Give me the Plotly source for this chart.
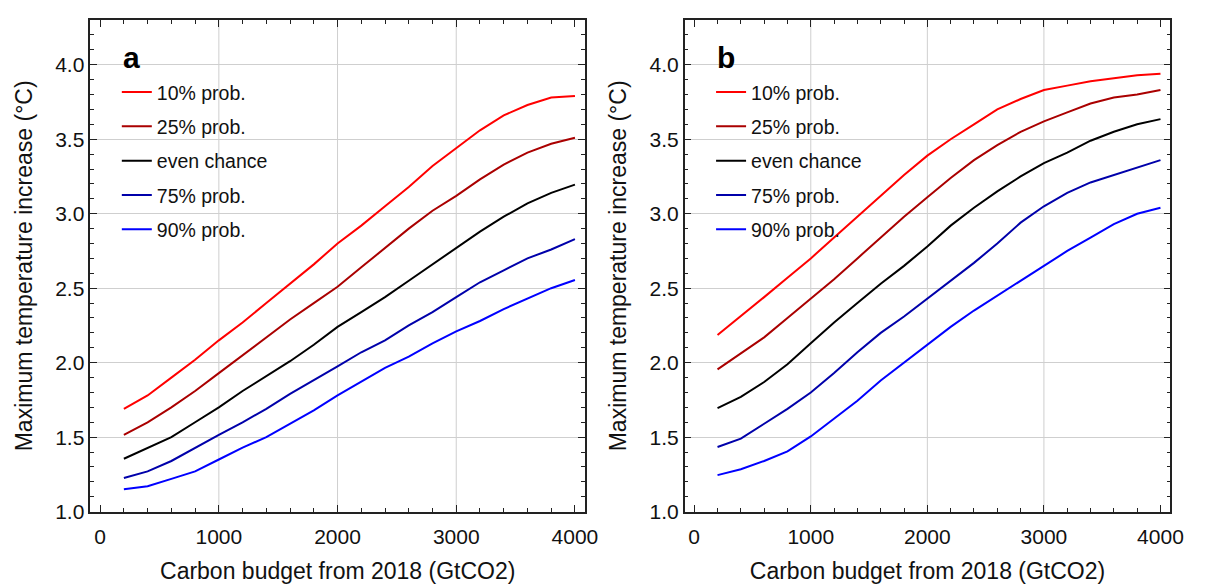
import plotly.graph_objects as go

# ---------------- data ----------------
budget = [200, 400, 600, 800, 1000, 1200, 1400, 1600, 1800, 2000,
          2200, 2400, 2600, 2800, 3000, 3200, 3400, 3600, 3800, 4000]

series_names = ["10% prob.", "25% prob.", "even chance", "75% prob.", "90% prob."]
series_colors = ["#ff0000", "#aa0000", "#000000", "#0000aa", "#0000ff"]

a_p10 = [1.69, 1.78, 1.90, 2.02, 2.15, 2.27, 2.40, 2.53, 2.66, 2.80,
         2.92, 3.05, 3.18, 3.32, 3.44, 3.56, 3.66, 3.73, 3.78, 3.79]
a_p25 = [1.515, 1.60, 1.70, 1.81, 1.93, 2.05, 2.17, 2.29, 2.40, 2.51,
         2.64, 2.77, 2.90, 3.02, 3.12, 3.23, 3.33, 3.41, 3.47, 3.51]
a_p50 = [1.355, 1.43, 1.50, 1.60, 1.70, 1.81, 1.91, 2.01, 2.12, 2.24,
         2.34, 2.44, 2.55, 2.66, 2.77, 2.88, 2.98, 3.07, 3.14, 3.195]
a_p75 = [1.226, 1.27, 1.34, 1.43, 1.515, 1.60, 1.69, 1.79, 1.88, 1.975,
         2.07, 2.15, 2.25, 2.34, 2.44, 2.54, 2.62, 2.70, 2.76, 2.83]
a_p90 = [1.15, 1.17, 1.22, 1.27, 1.35, 1.43, 1.50, 1.59, 1.68, 1.78,
         1.87, 1.965, 2.04, 2.13, 2.21, 2.28, 2.36, 2.43, 2.50, 2.555]

b_p10 = [2.186, 2.31, 2.44, 2.57, 2.70, 2.84, 2.98, 3.12, 3.26, 3.39,
         3.50, 3.60, 3.70, 3.77, 3.83, 3.86, 3.89, 3.91, 3.93, 3.94]
b_p25 = [1.955, 2.065, 2.17, 2.30, 2.43, 2.56, 2.70, 2.84, 2.98, 3.11,
         3.24, 3.36, 3.46, 3.55, 3.62, 3.68, 3.74, 3.78, 3.80, 3.83]
b_p50 = [1.695, 1.77, 1.87, 1.99, 2.13, 2.27, 2.40, 2.53, 2.65, 2.78,
         2.92, 3.04, 3.15, 3.25, 3.34, 3.41, 3.49, 3.55, 3.60, 3.635]
b_p75 = [1.434, 1.49, 1.59, 1.69, 1.80, 1.93, 2.07, 2.20, 2.31, 2.43,
         2.55, 2.67, 2.80, 2.94, 3.05, 3.14, 3.21, 3.26, 3.31, 3.36]
b_p90 = [1.245, 1.285, 1.34, 1.405, 1.505, 1.625, 1.745, 1.88, 2.00, 2.12,
         2.24, 2.35, 2.45, 2.55, 2.65, 2.75, 2.84, 2.93, 3.00, 3.04]

panel_labels = ["a", "b"]
x_title = "Carbon budget from 2018 (GtCO2)"
y_title = "Maximum temperature increase (°C)"
x_grid = [1000, 2000, 3000]

panels = [[a_p10, a_p25, a_p50, a_p75, a_p90],
          [b_p10, b_p25, b_p50, b_p75, b_p90]]

# ---------------- figure ----------------
W, H = 1211, 585
FONT = "Liberation Sans, Arial, sans-serif"
fig = go.Figure()

for p, data in enumerate(panels):
    xa = "x" if p == 0 else "x2"
    ya = "y" if p == 0 else "y2"
    leg = "legend" if p == 0 else "legend2"
    for i, vals in enumerate(data):
        fig.add_trace(go.Scatter(
            x=budget, y=vals, mode="lines", name=series_names[i],
            line=dict(color=series_colors[i], width=2),
            xaxis=xa, yaxis=ya, legend=leg, legendgroup=f"{p}{i}",
        ))

dom_x = [[83.3 / W, 583.3 / W], [684 / W, 1175 / W]]
dom_y = [(H - 513.3) / H, (H - 12.3) / H]

def xaxis(p):
    return dict(
        domain=dom_x[p], range=[-82, 4085], anchor="y" if p == 0 else "y2",
        tick0=0, dtick=1000, ticks="inside", ticklen=7, tickwidth=1.3, tickcolor="#222",
        minor=dict(dtick=200, ticks="inside", ticklen=4, tickwidth=1.2, tickcolor="#222", showgrid=False),
        showline=True, linecolor="#222", linewidth=1.6, mirror="ticks",
        showgrid=False, zeroline=False, ticklabelstandoff=5,
        tickfont=dict(family=FONT, size=21, color="#111"),
        title=dict(text=x_title, font=dict(family=FONT, size=23, color="#111"), standoff=16),
    )

def yaxis(p):
    return dict(
        domain=dom_y, range=[1.0, 4.3], anchor="x" if p == 0 else "x2",
        tick0=1.0, dtick=0.5, tickformat=".1f",
        ticks="inside", ticklen=7, tickwidth=1.3, tickcolor="#222",
        minor=dict(dtick=0.1, ticks="inside", ticklen=4, tickwidth=1.2, tickcolor="#222", showgrid=False),
        showline=True, linecolor="#222", linewidth=1.6, mirror="ticks",
        showgrid=True, gridcolor="#cfcfcf", gridwidth=1, zeroline=False,
        tickfont=dict(family=FONT, size=21, color="#111"),
        title=dict(text=y_title, font=dict(family=FONT, size=23, color="#111"), standoff=16),
    )

legend_common = dict(
    bgcolor="rgba(0,0,0,0)", font=dict(family=FONT, size=19.5, color="#111"),
    tracegroupgap=6, xanchor="left", yanchor="top", itemwidth=30,
)

fig.update_layout(
    width=W, height=H, margin=dict(l=0, r=0, t=0, b=0),
    paper_bgcolor="white", plot_bgcolor="white",
    xaxis=xaxis(0), yaxis=yaxis(0), xaxis2=xaxis(1), yaxis2=yaxis(1),
    legend=dict(x=110 / W, y=1 - 66 / H, **legend_common),
    legend2=dict(x=(110 + 600.7) / W, y=1 - 66 / H, **legend_common),
    showlegend=True,
)

for p in range(2):
    for gx in x_grid:
        fig.add_shape(type="line", x0=gx, x1=gx, y0=0, y1=1,
                      xref="x" if p == 0 else "x2",
                      yref="y domain" if p == 0 else "y2 domain",
                      line=dict(color="#cfcfcf", width=1), layer="below")

label_x = [124.5 / W, 725.3 / W]
for p in range(2):
    fig.add_annotation(text=f"<b>{panel_labels[p]}</b>", xref="paper", yref="paper",
                       x=label_x[p], y=1 - 50.5 / H, showarrow=False,
                       xanchor="center", yanchor="middle",
                       font=dict(family=FONT, size=30, color="#000"))

fig.write_html("out.html")
